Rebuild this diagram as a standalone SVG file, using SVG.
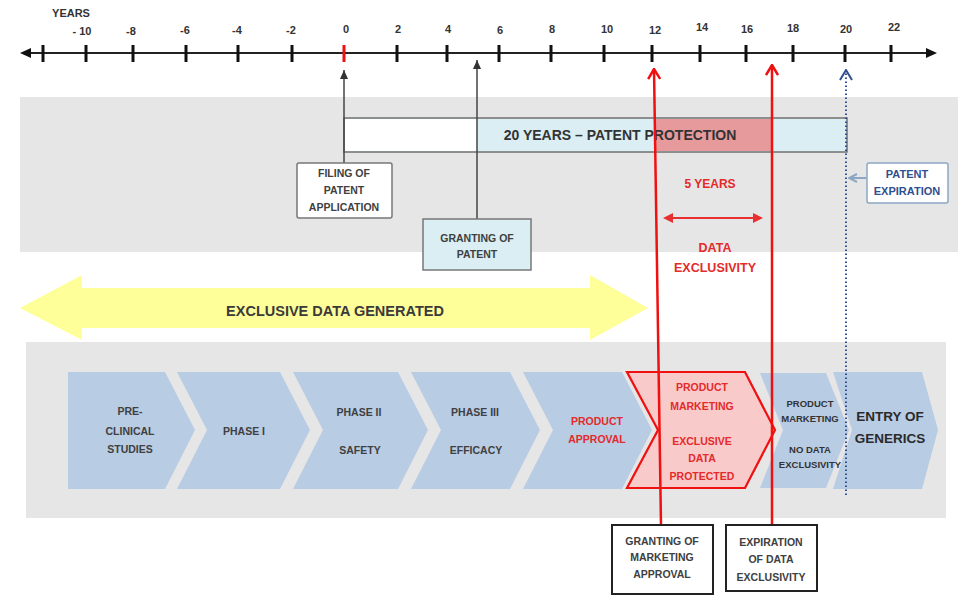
<svg xmlns="http://www.w3.org/2000/svg" width="966" height="614" viewBox="0 0 966 614">
<defs>
<style>
text{font-family:"Liberation Sans",Arial,sans-serif;font-weight:bold;text-anchor:middle}
.ax{font-size:11px;fill:#333}
.lab{font-size:10.5px;fill:#404040}
.red{fill:#E42A2A}
.chev{fill:#B8CCE4}
.tick{stroke:#111;stroke-width:3}
</style>
<marker id="ahB" markerWidth="9" markerHeight="8" refX="9" refY="4" orient="auto" markerUnits="userSpaceOnUse" viewBox="0 0 9 8"><path d="M0,0 L9,4 L0,8 Z" fill="#333"/></marker>
<marker id="ahR" markerWidth="12" markerHeight="14" refX="11" refY="7" orient="auto" markerUnits="userSpaceOnUse" viewBox="0 0 12 14"><path d="M1,1 L11,7 L1,13" fill="none" stroke="#F01010" stroke-width="2.5"/></marker>
<marker id="ahU" markerWidth="12" markerHeight="14" refX="11" refY="7" orient="auto" markerUnits="userSpaceOnUse" viewBox="0 0 12 14"><path d="M1,1 L11,7 L1,13" fill="none" stroke="#2F4F8F" stroke-width="2"/></marker>
<marker id="ahD" markerWidth="10" markerHeight="10" refX="5" refY="5" orient="auto-start-reverse" markerUnits="userSpaceOnUse" viewBox="0 0 10 10"><path d="M0,0 L10,5 L0,10 Z" fill="#E83030"/></marker>
<marker id="ahL" markerWidth="10" markerHeight="10" refX="9" refY="5" orient="auto" markerUnits="userSpaceOnUse" viewBox="0 0 10 10"><path d="M1,1 L9,5 L1,9" fill="none" stroke="#8CA6C4" stroke-width="2"/></marker>
</defs>
<rect width="966" height="614" fill="#fff"/>

<!-- timeline axis -->
<g id="axis">
<line x1="24" y1="53" x2="930" y2="53" stroke="#222" stroke-width="2"/>
<path d="M20,53 L31,48 L31,58 Z" fill="#111"/>
<path d="M937,53 L926,48 L926,58 Z" fill="#111"/>
<g class="tick">
<line x1="43" y1="45" x2="43" y2="62"/><line x1="86" y1="45" x2="86" y2="62"/><line x1="133" y1="45" x2="133" y2="62"/><line x1="186" y1="45" x2="186" y2="62"/><line x1="238" y1="45" x2="238" y2="62"/><line x1="292" y1="45" x2="292" y2="62"/>
<line x1="397" y1="45" x2="397" y2="62"/><line x1="447" y1="45" x2="447" y2="62"/><line x1="499" y1="45" x2="499" y2="62"/><line x1="551" y1="45" x2="551" y2="62"/><line x1="604" y1="45" x2="604" y2="62"/><line x1="652" y1="45" x2="652" y2="62"/><line x1="700" y1="45" x2="700" y2="62"/><line x1="746" y1="45" x2="746" y2="62"/><line x1="793" y1="45" x2="793" y2="62"/><line x1="845" y1="45" x2="845" y2="62"/><line x1="891" y1="45" x2="891" y2="62"/>
</g>
<line x1="344" y1="45" x2="344" y2="62" stroke="#F01010" stroke-width="3"/>
<text class="ax" x="71" y="17">YEARS</text>
<text class="ax" x="82" y="35">- 10</text><text class="ax" x="131" y="35">-8</text><text class="ax" x="185" y="34">-6</text><text class="ax" x="237" y="34">-4</text><text class="ax" x="291" y="34">-2</text><text class="ax" x="346" y="33">0</text><text class="ax" x="398" y="33">2</text><text class="ax" x="448" y="33">4</text><text class="ax" x="500" y="34">6</text><text class="ax" x="552" y="33">8</text><text class="ax" x="607" y="33">10</text><text class="ax" x="655" y="34">12</text><text class="ax" x="702" y="31">14</text><text class="ax" x="747" y="33">16</text><text class="ax" x="793" y="32">18</text><text class="ax" x="846" y="33">20</text><text class="ax" x="894" y="31">22</text>
</g>

<!-- background bands -->
<rect x="20" y="97" width="938" height="155" fill="#E6E6E6"/>
<rect x="26" y="342" width="920" height="176" fill="#E6E6E6"/>

<!-- patent protection bar -->
<g id="patent-bar">
<rect x="344" y="118" width="503" height="34" fill="#DAEEF3" stroke="#707070" stroke-width="1.5"/>
<rect x="345" y="119" width="132" height="32" fill="#fff"/>
<rect x="654" y="119" width="117" height="32" fill="#E79A9C"/>
<text x="620" y="140" style="font-size:14px;fill:#333">20 YEARS  – PATENT  PROTECTION</text>
</g>

<!-- yellow arrow -->
<g id="exclusive-data">
<path d="M20,308 L82,275 L82,288 L590,288 L590,275 L648,308 L590,340 L590,328 L82,328 L82,340 Z" fill="#FFFF99"/>
<text x="335" y="316" style="font-size:14.5px;fill:#3a3a3a">EXCLUSIVE DATA GENERATED</text>
</g>

<!-- chevrons -->
<g id="c1"><path class="chev" d="M68,372 L165,372 L195,430 L165,489 L68,489 Z"/>
<text class="lab" x="130" y="415">PRE-</text><text class="lab" x="130" y="435">CLINICAL</text><text class="lab" x="130" y="453">STUDIES</text></g>
<g id="c2"><path class="chev" d="M177,372 L280,372 L310,430 L280,489 L177,489 L207,430 Z"/>
<text class="lab" x="244" y="435">PHASE I</text></g>
<g id="c3"><path class="chev" d="M293,372 L398,372 L428,430 L398,489 L293,489 L323,430 Z"/>
<text class="lab" x="359" y="416">PHASE II</text><text class="lab" x="360" y="454">SAFETY</text></g>
<g id="c4"><path class="chev" d="M411,372 L510,372 L540,430 L510,489 L411,489 L441,430 Z"/>
<text class="lab" x="475" y="416">PHASE III</text><text class="lab" x="476" y="454">EFFICACY</text></g>
<g id="c5"><path class="chev" d="M523,372 L622,372 L652,430 L622,489 L523,489 L553,430 Z"/>
<text class="lab red" x="597" y="425">PRODUCT</text><text class="lab red" x="597" y="443">APPROVAL</text></g>
<g id="c7"><path class="chev" d="M760,373 L826,373 L849,430 L826,488 L760,488 L783,430 Z"/>
<text x="810" y="407" style="font-size:9.5px;fill:#333">PRODUCT</text><text x="810" y="422" style="font-size:9.5px;fill:#333">MARKETING</text><text x="810" y="453" style="font-size:9.5px;fill:#333">NO DATA</text><text x="810" y="468" style="font-size:9.5px;fill:#333">EXCLUSIVITY</text></g>
<g id="c8"><path class="chev" d="M833,372 L922,372 L938,430 L922,489 L833,489 L852,430 Z"/>
<text x="890" y="421" style="font-size:13.5px;fill:#2a2a2a">ENTRY OF</text><text x="890" y="443" style="font-size:13.5px;fill:#2a2a2a">GENERICS</text></g>
<g id="c6"><path d="M627,372 L745,372 L775,430 L745,488 L627,488 L658,430 Z" fill="#F9CACA" stroke="#F01010" stroke-width="2.2"/>
<text class="lab red" x="702" y="391">PRODUCT</text><text class="lab red" x="702" y="410">MARKETING</text><text class="lab red" x="702" y="445">EXCLUSIVE</text><text class="lab red" x="702" y="462">DATA</text><text class="lab red" x="702" y="480">PROTECTED</text></g>

<!-- connectors -->
<g id="connectors">
<line x1="344" y1="163" x2="344" y2="70" stroke="#444" stroke-width="1.5" marker-end="url(#ahB)"/>
<line x1="477" y1="219" x2="477" y2="60" stroke="#444" stroke-width="1.5" marker-end="url(#ahB)"/>
<line x1="846" y1="495" x2="846" y2="70" stroke="#2F4F8F" stroke-width="2" stroke-dasharray="1.5 2.5" marker-end="url(#ahU)"/>
<line x1="866" y1="178" x2="849" y2="178" stroke="#8CA6C4" stroke-width="2" marker-end="url(#ahL)"/>
<line x1="661" y1="526" x2="654" y2="69" stroke="#F01010" stroke-width="2.5" marker-end="url(#ahR)"/>
<line x1="772" y1="526" x2="772" y2="65" stroke="#F01010" stroke-width="2.5" marker-end="url(#ahR)"/>
<line x1="668" y1="218" x2="758" y2="218" stroke="#E83030" stroke-width="2" marker-start="url(#ahD)" marker-end="url(#ahD)"/>
</g>

<!-- labels in upper band -->
<g id="five-years"><text class="red" x="710" y="188" style="font-size:12px">5 YEARS</text></g>
<g id="data-exclusivity"><text class="red" x="715" y="252" style="font-size:12.5px">DATA</text><text class="red" x="715" y="272" style="font-size:12.5px">EXCLUSIVITY</text></g>

<g id="filing"><rect x="297" y="163" width="95" height="55" rx="2" fill="#fff" stroke="#777" stroke-width="1.5"/>
<text class="lab" x="344" y="177">FILING OF</text><text class="lab" x="344" y="194">PATENT</text><text class="lab" x="344" y="211">APPLICATION</text></g>
<g id="granting-patent"><rect x="423" y="219" width="108" height="51" fill="#DAEEF3" stroke="#777" stroke-width="1.5"/>
<text class="lab" x="477" y="242">GRANTING OF</text><text class="lab" x="477" y="258">PATENT</text></g>
<g id="patent-expiration"><rect x="867" y="163" width="81" height="40" rx="2" fill="#fff" stroke="#8CA6C4" stroke-width="1.5"/>
<text x="907" y="178" style="font-size:11px;fill:#2F4F8F">PATENT</text><text x="907" y="195" style="font-size:11px;fill:#2F4F8F">EXPIRATION</text></g>

<g id="granting-marketing"><rect x="612" y="525" width="101" height="69" fill="#fff" stroke="#222" stroke-width="2"/>
<text class="lab" x="662" y="545">GRANTING OF</text><text class="lab" x="662" y="561">MARKETING</text><text class="lab" x="662" y="578">APPROVAL</text></g>
<g id="expiration-data"><rect x="726" y="525" width="91" height="66" fill="#fff" stroke="#222" stroke-width="2"/>
<text class="lab" x="771" y="546">EXPIRATION</text><text class="lab" x="771" y="563">OF DATA</text><text class="lab" x="771" y="581">EXCLUSIVITY</text></g>
</svg>
